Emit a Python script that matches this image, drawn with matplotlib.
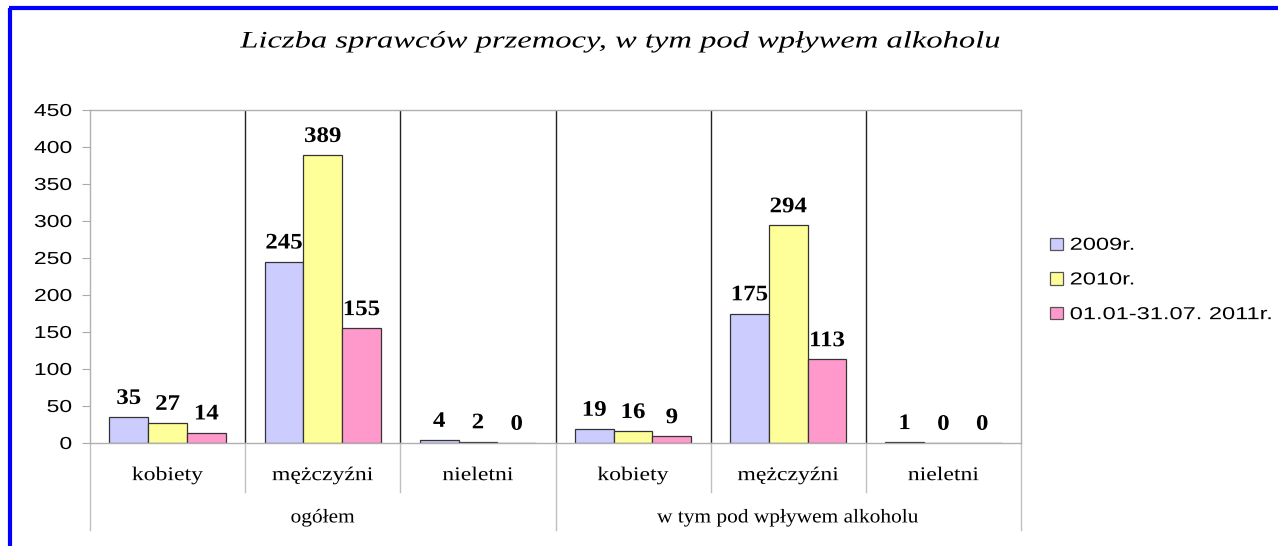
import matplotlib
matplotlib.use("Agg")
import matplotlib.pyplot as plt
from matplotlib.lines import Line2D
from matplotlib.patches import Patch
from matplotlib import patheffects
from matplotlib.transforms import Affine2D
import numpy as np

title = "Liczba sprawców przemocy, w tym pod wpływem alkoholu"
categories = ["kobiety", "mężczyźni", "nieletni", "kobiety", "mężczyźni", "nieletni"]
groups = ["ogółem", "w tym pod wpływem alkoholu"]
series_names = ["2009r.", "2010r.", "01.01-31.07. 2011r."]
v2009 = [35, 245, 4, 19, 175, 1]
v2010 = [27, 389, 2, 16, 294, 0]
v2011 = [14, 155, 0, 9, 113, 0]
colors = ["#CCCCFF", "#FFFF99", "#FF99CC"]
yticks = [0, 50, 100, 150, 200, 250, 300, 350, 400, 450]


class HStretch(patheffects.AbstractPathEffect):
    """Stretch rendered text horizontally about an anchor (the text stays a Text)."""

    def __init__(self, sx, anchor="center"):
        super().__init__()
        self.sx = sx
        self.anchor = anchor

    def draw_path(self, renderer, gc, tpath, affine, rgbFace=None):
        ext = tpath.get_extents(affine)
        if self.anchor == "left":
            cx = ext.x0
        elif self.anchor == "right":
            cx = ext.x1
        else:
            cx = 0.5 * (ext.x0 + ext.x1)
        new = affine + Affine2D().translate(-cx, 0).scale(self.sx, 1).translate(cx, 0)
        renderer.draw_path(gc, tpath, new, rgbFace)


W, H = 1278, 546
fig = plt.figure(figsize=(W / 100, H / 100), dpi=100)
fig.patch.set_facecolor("white")

ax = fig.add_axes([90 / W, 1 - 443 / H, (1021 - 90) / W, (443 - 110) / H])
x = np.arange(len(categories))
bw = 0.25
for k, (vals, c, name) in enumerate(zip([v2009, v2010, v2011], colors, series_names)):
    xs = x + (k - 1) * bw
    ax.bar(xs, vals, width=bw, color=c, edgecolor="#333333", linewidth=0.9, label=name)
    for xi, v in zip(xs, vals):
        t = ax.annotate(str(v), (xi, v), xytext=(0, 9.5), textcoords="offset points",
                        ha="center", va="baseline", fontsize=16, fontweight="bold",
                        family="Liberation Serif", color="black")
        t.set_path_effects([HStretch(1.12, "center")])

ax.set_xlim(-0.5, len(categories) - 0.5)
ax.set_ylim(0, 450)
ax.set_yticks(yticks)
ax.set_yticklabels([str(t) for t in yticks], family="Liberation Sans", fontsize=12.5)
for lab in ax.get_yticklabels():
    lab.set_path_effects([HStretch(1.32, "right")])
ax.tick_params(axis="y", length=5.8, color="#AAAAAA", pad=7.2)
ax.set_xticks([])
for s in ax.spines.values():
    s.set_color("#B0B0B0")
    s.set_linewidth(1.0)

# category dividers inside plot
for b in np.arange(0.5, len(categories) - 0.5, 1.0):
    ax.axvline(b, color="#222222", lw=1.0, zorder=0)

# category and group labels below the axis
trans = ax.get_xaxis_transform()
for i, c in enumerate(categories):
    t = ax.text(i, -0.098, c, transform=trans, ha="center", va="center",
                family="Liberation Serif", fontsize=14)
    t.set_path_effects([HStretch(1.22, "center")])
for g_i, g in enumerate(groups):
    t = ax.text(g_i * 3 + 1, -0.225, g, transform=trans, ha="center", va="center",
                family="Liberation Serif", fontsize=14)
    t.set_path_effects([HStretch(1.1, "center")])

# separators below axis
sep_small = -(492 - 443) / (443 - 110)
sep_big = -(530 - 443) / (443 - 110)
for b in np.arange(-0.5, len(categories), 1.0):
    bottom = sep_big if (b + 0.5) % 3 == 0 else sep_small
    ax.add_line(Line2D([b, b], [0, bottom], transform=trans, color="#C0C0C0",
                       lw=1.0, clip_on=False))

# title
tt = fig.text(621 / W, 1 - 42 / H, title, ha="center", va="center", family="Liberation Serif",
              style="italic", fontsize=17)
tt.set_path_effects([HStretch(1.38, "center")])

# legend
handles = [Patch(facecolor=c, edgecolor="#555555", linewidth=0.9) for c in colors]
leg = fig.legend(handles, series_names, loc="upper left", bbox_to_anchor=(1050 / W, 1 - 237.5 / H),
                 frameon=False, prop={"family": "Liberation Sans", "size": 12.5},
                 handlelength=0.75, handleheight=0.72, handletextpad=0.4, labelspacing=1.12,
                 borderaxespad=0, borderpad=0)
for lt in leg.get_texts():
    lt.set_path_effects([HStretch(1.36, "left")])

# blue frame (left and top edges visible)
fig.add_artist(Line2D([10 / W, 10 / W], [0, 1 - 7.5 / H], transform=fig.transFigure,
                      color="#0000FF", lw=3.0, solid_capstyle="butt"))
fig.add_artist(Line2D([8.5 / W, 1], [1 - 7.5 / H, 1 - 7.5 / H], transform=fig.transFigure,
                      color="#0000FF", lw=3.0, solid_capstyle="butt"))

fig.savefig("out.png", dpi=100)
